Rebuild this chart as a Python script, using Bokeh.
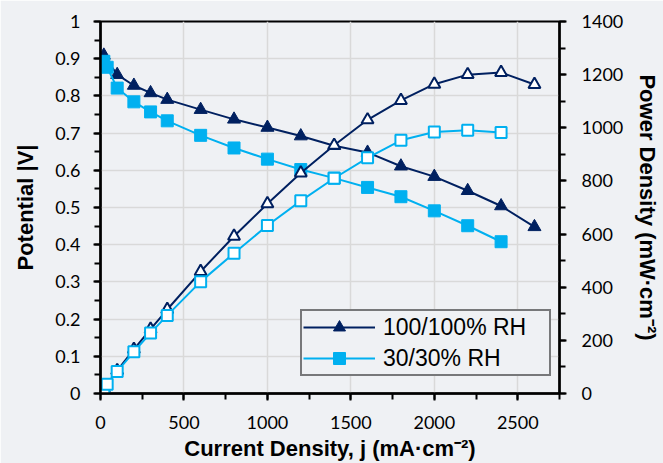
from bokeh.plotting import figure
from bokeh.models import (Range1d, LinearAxis, SingleIntervalTicker, Legend, LegendItem,
                          CustomJSTickFormatter)
from bokeh.embed import file_html
from bokeh.resources import INLINE

# ---- data ----
j_100 = [20, 100, 200, 300, 400, 600, 800, 1000, 1200, 1400, 1600, 1800, 2000, 2200, 2400, 2600]
v_100 = [0.909, 0.857, 0.828, 0.808, 0.790, 0.763, 0.737, 0.715, 0.692, 0.666, 0.648, 0.611,
         0.583, 0.545, 0.504, 0.448]
p_100 = [18, 86, 166, 242, 316, 459, 592, 714, 830, 934, 1030, 1103, 1164, 1200, 1208, 1163]

j_30 = [20, 40, 100, 200, 300, 400, 600, 800, 1000, 1200, 1400, 1600, 1800, 2000, 2200, 2400]
v_30 = [0.893, 0.877, 0.821, 0.784, 0.757, 0.733, 0.694, 0.660, 0.630, 0.602, 0.579, 0.554,
        0.529, 0.491, 0.451, 0.408]
p_30 = [18, 35, 83, 157, 228, 294, 421, 528, 632, 725, 810, 887, 953, 984, 991, 982]

series_labels = ["100/100% RH", "30/30% RH"]

NAVY = "#002060"
CYAN = "#00B0F0"
BG = "#EFF1F4"
GRID = "#D9D9D9"
TICK_FONT = "Lato"
TITLE_FONT = "Liberation Sans"

p = figure(width=663, height=463, output_backend="svg", toolbar_location=None,
           x_range=Range1d(0, 2750), y_range=Range1d(0, 1),
           min_border_left=100, min_border_right=100, min_border_top=21, min_border_bottom=69)
p.extra_y_ranges = {"power": Range1d(0, 1400)}

p.background_fill_color = BG
p.border_fill_color = BG
p.outline_line_color = "black"
p.outline_line_width = 2

# x axis
xa = p.xaxis[0]
xa.ticker = SingleIntervalTicker(interval=500, num_minor_ticks=2)
xa.axis_label = "Current Density, j (mA·cm⁻²)"

# left axis
ya = p.yaxis[0]
ya.ticker = SingleIntervalTicker(interval=0.1, num_minor_ticks=2)
ya.formatter = CustomJSTickFormatter(code="return String(Math.round(tick*10)/10);")
ya.axis_label = "Potential |V|"

# right axis
ra = LinearAxis(y_range_name="power", ticker=SingleIntervalTicker(interval=200, num_minor_ticks=2),
                axis_label="Power Density (mW·cm⁻²)")
p.add_layout(ra, "right")

for ax in (xa, ya, ra):
    ax.axis_line_color = "black"
    ax.axis_line_width = 2.5
    ax.major_tick_line_color = "black"
    ax.major_tick_line_width = 2
    ax.minor_tick_line_color = "black"
    ax.minor_tick_line_width = 2
    ax.major_tick_in = 0
    ax.major_tick_out = 7
    ax.minor_tick_in = 0
    ax.minor_tick_out = 6
    ax.major_label_text_font = TICK_FONT
    ax.major_label_text_font_size = "18px"
    ax.major_label_text_color = "black"
    ax.axis_label_text_font = TITLE_FONT
    ax.axis_label_text_font_style = "bold"
    ax.axis_label_text_font_size = "22px"
    ax.axis_label_text_color = "black"

xa.major_label_standoff = 15
xa.axis_label_standoff = 4
ya.major_label_standoff = 13
ya.axis_label_standoff = 14
ra.major_label_standoff = 15
ra.axis_label_standoff = 9

p.xgrid.grid_line_color = GRID
p.xgrid.grid_line_width = 1.5
p.ygrid.grid_line_color = GRID
p.ygrid.grid_line_width = 1.5

# potential curves
l1 = p.line(j_100, v_100, line_color=NAVY, line_width=2)
s1 = p.scatter(j_100, v_100, marker="triangle", size=13, fill_color=NAVY, line_color=NAVY)
l2 = p.line(j_30, v_30, line_color=CYAN, line_width=2)
s2 = p.scatter(j_30, v_30, marker="square", size=12, fill_color=CYAN, line_color=CYAN)

# power curves
p.line(j_100, p_100, line_color=NAVY, line_width=2, y_range_name="power")
p.scatter(j_100, p_100, marker="triangle", size=12, fill_color="white", line_color=NAVY,
          line_width=2, y_range_name="power")
p.line(j_30, p_30, line_color=CYAN, line_width=2, y_range_name="power")
p.scatter(j_30, p_30, marker="square", size=11, fill_color="white", line_color=CYAN,
          line_width=2, y_range_name="power")

legend = Legend(items=[LegendItem(label=series_labels[0], renderers=[l1, s1]),
                       LegendItem(label=series_labels[1], renderers=[l2, s2])],
                location=(200, 17))
legend.label_text_font = TITLE_FONT
legend.label_text_font_size = "23px"
legend.label_text_color = "black"
legend.glyph_width = 72
legend.glyph_height = 30
legend.label_standoff = 8
legend.label_width = 165
legend.padding = 1
legend.spacing = 1
legend.margin = 0
legend.border_line_color = "black"
legend.border_line_width = 2
legend.background_fill_color = BG
legend.background_fill_alpha = 1
p.add_layout(legend, "center")

open("out.html", "w").write(file_html(p, INLINE))
